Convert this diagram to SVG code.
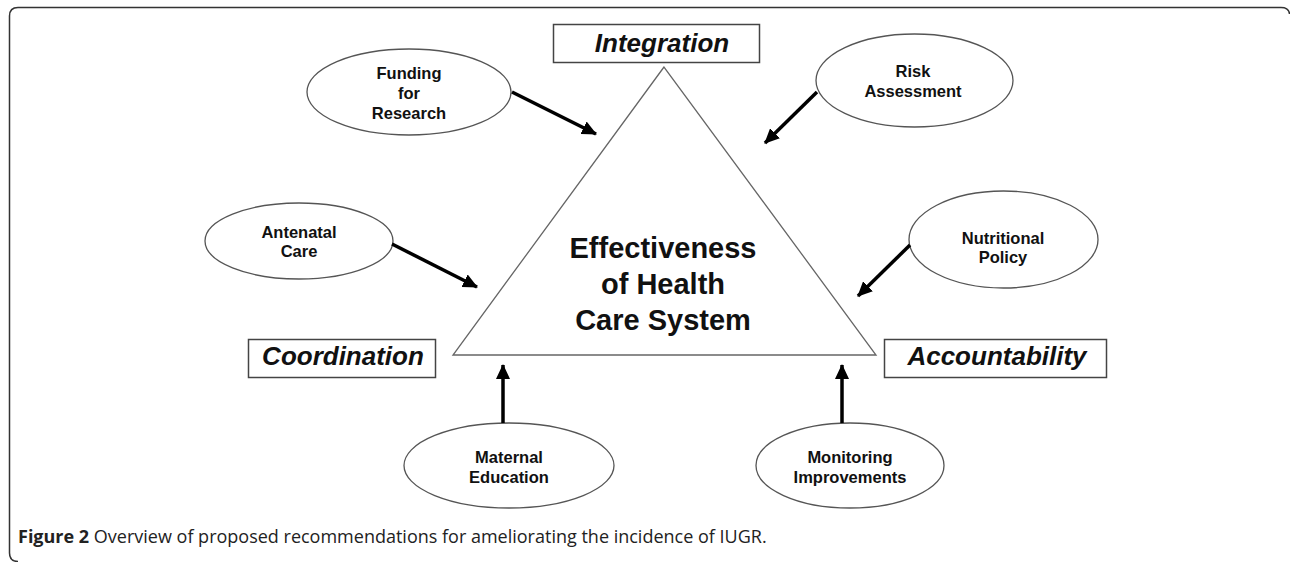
<svg xmlns="http://www.w3.org/2000/svg" width="1290" height="562" viewBox="0 0 1290 562">
<style>
.frame{fill:none;stroke:#333;stroke-width:1.5}
.ell{fill:#fff;stroke:#555;stroke-width:1.3}
.box{fill:#fff;stroke:#444;stroke-width:1.5}
.tri{fill:#fff;stroke:#666;stroke-width:1.3}
.lbl{font-family:"Liberation Sans",Arial,sans-serif;font-weight:bold;font-size:16.5px;fill:#111;text-anchor:middle}
.hdr{font-family:"Liberation Sans",Arial,sans-serif;font-weight:bold;font-style:italic;font-size:26px;fill:#111;text-anchor:middle}
.ctr{font-family:"Liberation Sans",Arial,sans-serif;font-weight:bold;font-size:29px;fill:#111;text-anchor:middle}
.cap{font-family:"Open Sans","Noto Sans",sans-serif;font-size:18px;fill:#222}
.arr{stroke:#000;stroke-width:3.5;fill:none;marker-end:url(#ah)}
</style>
<defs>
<marker id="ah" markerUnits="userSpaceOnUse" markerWidth="16" markerHeight="14" refX="14" refY="7" orient="auto">
<path d="M0,0 L15,7 L0,14 Z" fill="#000"/>
</marker>
</defs>
<path class="frame" d="M18 561.5 Q9.5 561.5 9.5 553 L9.5 16 Q9.5 7.5 18 7.5 L1281 7.5 Q1289 7.5 1289.5 14"/>
<g id="triangle">
<polygon class="tri" points="664,67 453,355 876,355"/>
<text class="ctr" x="663" y="258">Effectiveness</text>
<text class="ctr" x="663" y="294">of Health</text>
<text class="ctr" x="663" y="330">Care System</text>
</g>
<g id="integration">
<rect class="box" x="553.5" y="24.5" width="206" height="38"/>
<text class="hdr" x="662" y="52">Integration</text>
</g>
<g id="coordination">
<rect class="box" x="248.5" y="339.5" width="187" height="38"/>
<text class="hdr" x="343" y="365">Coordination</text>
</g>
<g id="accountability">
<rect class="box" x="884.5" y="339.5" width="222" height="38"/>
<text class="hdr" x="997" y="365">Accountability</text>
</g>
<g id="funding">
<ellipse class="ell" cx="409" cy="92" rx="102" ry="43"/>
<text class="lbl" x="409" y="79">Funding</text>
<text class="lbl" x="409" y="99">for</text>
<text class="lbl" x="409" y="119">Research</text>
</g>
<g id="risk">
<ellipse class="ell" cx="914.5" cy="80.5" rx="98.5" ry="46.5"/>
<text class="lbl" x="913" y="77">Risk</text>
<text class="lbl" x="913" y="97">Assessment</text>
</g>
<g id="antenatal">
<ellipse class="ell" cx="299" cy="241" rx="94" ry="38"/>
<text class="lbl" x="299" y="238">Antenatal</text>
<text class="lbl" x="299" y="257">Care</text>
</g>
<g id="nutritional">
<ellipse class="ell" cx="1003.5" cy="239.5" rx="94.5" ry="48.5"/>
<text class="lbl" x="1003" y="244">Nutritional</text>
<text class="lbl" x="1003" y="263">Policy</text>
</g>
<g id="maternal">
<ellipse class="ell" cx="509" cy="465.5" rx="105" ry="42.5"/>
<text class="lbl" x="509" y="463">Maternal</text>
<text class="lbl" x="509" y="483">Education</text>
</g>
<g id="monitoring">
<ellipse class="ell" cx="850" cy="465.5" rx="94" ry="42.5"/>
<text class="lbl" x="850" y="463">Monitoring</text>
<text class="lbl" x="850" y="483">Improvements</text>
</g>
<g id="connectors">
<line class="arr" x1="512" y1="92" x2="596" y2="134"/>
<line class="arr" x1="817" y1="92" x2="765" y2="143"/>
<line class="arr" x1="392" y1="244" x2="477" y2="287"/>
<line class="arr" x1="910" y1="245" x2="858" y2="296"/>
<line class="arr" x1="503" y1="423" x2="503" y2="365"/>
<line class="arr" x1="842" y1="423" x2="842" y2="365"/>
</g>
<text class="cap" x="18" y="543"><tspan font-weight="bold">Figure 2</tspan> Overview of proposed recommendations for ameliorating the incidence of IUGR.</text>
</svg>
